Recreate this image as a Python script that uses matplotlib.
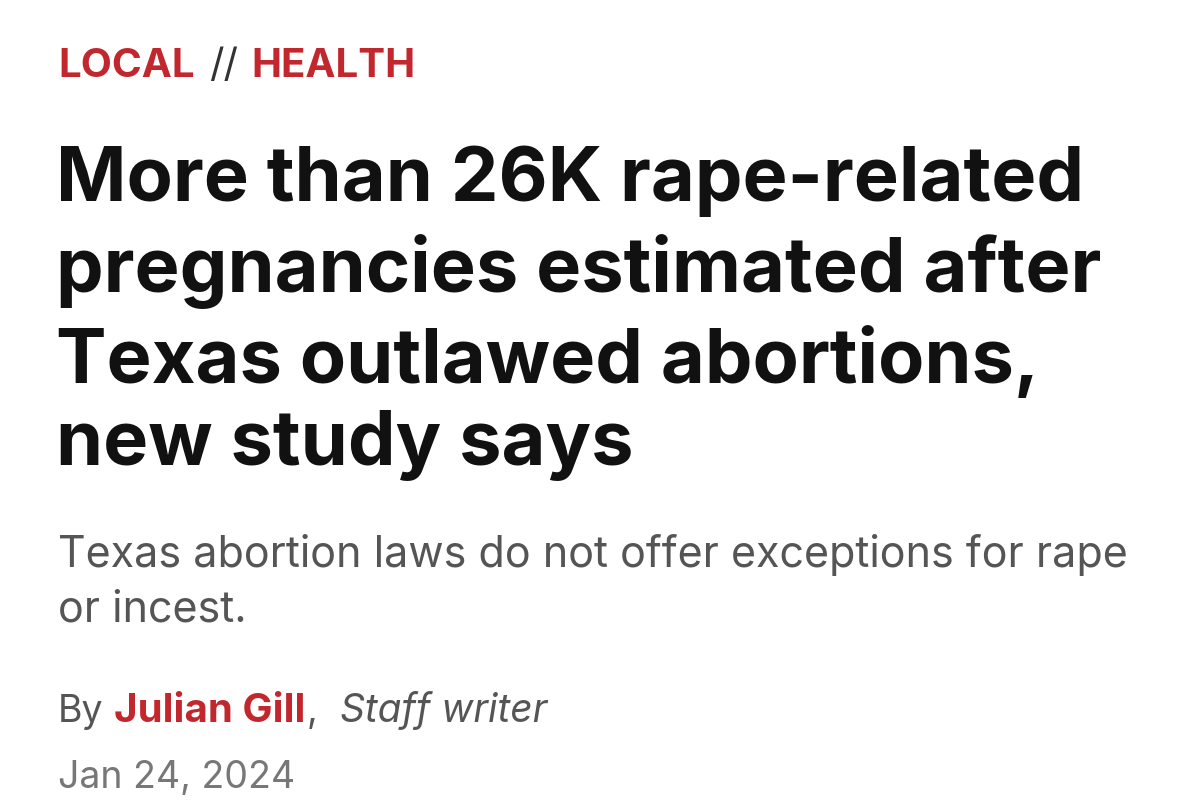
import matplotlib
matplotlib.use("Agg")
import matplotlib.pyplot as plt

category = ["LOCAL", "//", "HEALTH"]
headline = ["More than 26K rape-related", "pregnancies estimated after",
            "Texas outlawed abortions,", "new study says"]
subtitle = ["Texas abortion laws do not offer exceptions for rape", "or incest."]
byline = ["By", "Julian Gill", ",", "Staff writer"]
date = "Jan 24, 2024"

W, H = 1200, 807
fig = plt.figure(figsize=(12, 8.07), dpi=100)
fig.patch.set_facecolor("white")
RED = "#C1272D"
FAM = ["Inter", "DejaVu Sans"]
r = fig.canvas.get_renderer()

def t(x, y, s, **kw):
    o = fig.text(x / W, 1 - y / H, s, va="baseline", ha="left", family=FAM, **kw)
    return x + o.get_window_extent(r).width

x = t(58, 77, category[0], fontsize=29, weight="bold", color=RED)
x = t(x + 14, 77, category[1], fontsize=29, color="#333333")
t(x + 14, 77, category[2], fontsize=29, weight="bold", color=RED)

for s, y in zip(headline, [201, 292, 383, 465]):
    t(56, y, s, fontsize=54.5, weight="bold", color="#111111")

for s, y in zip(subtitle, [567, 621]):
    t(58, y, s, fontsize=31, color="#555555")

x = t(58, 722, byline[0], fontsize=27, color="#555555")
x = t(x + 10, 722, byline[1], fontsize=29, weight="bold", color=RED)
x = t(x + 2, 722, byline[2], fontsize=27, color="#555555")
t(x + 22, 722, byline[3], fontsize=28, style="italic", color="#555555")
t(58, 788, date, fontsize=27, color="#777777")

fig.savefig("out.png", dpi=100, facecolor="white")
